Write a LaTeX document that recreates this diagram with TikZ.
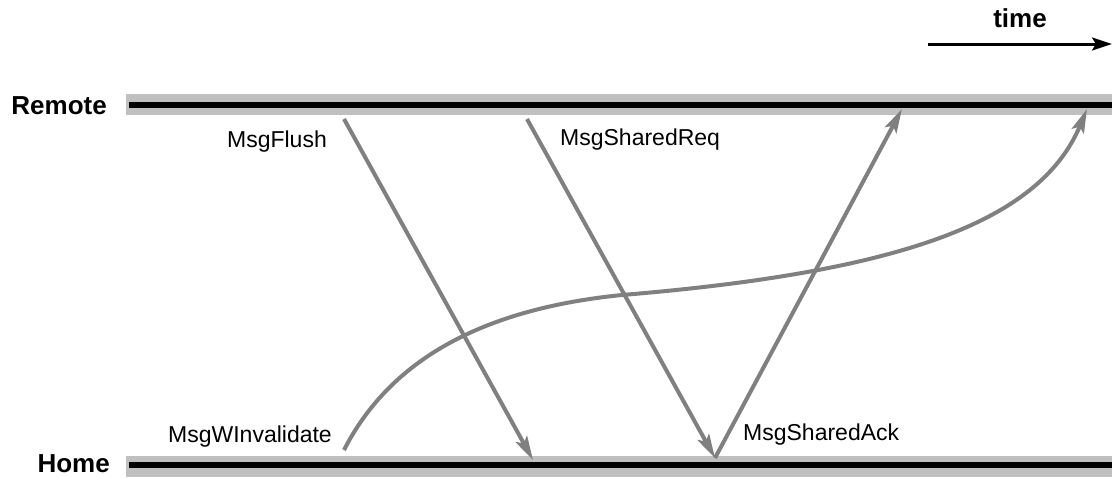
\documentclass[tikz,border=0pt]{standalone}
\usepackage{fontspec}
\setmainfont{Liberation Sans}
\usetikzlibrary{arrows.meta}
\definecolor{band}{HTML}{C0C0C0}
\definecolor{msg}{HTML}{808080}
\tikzset{
  lbl/.style={inner sep=0pt, font=\fontsize{23}{26}\selectfont},
  lane/.style={inner sep=0pt, text depth=0pt, font=\fontsize{26}{30}\selectfont\bfseries},
  msgarrow/.style={draw=msg, line width=4pt, -{Stealth[length=24pt,width=13pt,inset=5pt]}},
}
\begin{document}
\begin{tikzpicture}[x=1pt,y=-1pt]
\useasboundingbox (0,0) rectangle (1112,477);
% timelines
\fill[band] (126,94) rectangle (1112,115);
\draw[line width=6pt] (129,104.5) -- (1112,104.5);
\fill[band] (126,456) rectangle (1112,477);
\draw[line width=6pt] (129,465) -- (1112,465);
\node[lane, anchor=base east] (remote) at (107,114) {Remote};
\node[lane, anchor=base east] (home) at (110,472) {Home};
% time arrow
\node[lane, anchor=base] (time) at (1020,27) {time};
\coordinate (t0) at (928,44);
\coordinate (t1) at (1112,44);
\draw[line width=3pt, -{Stealth[length=20pt,width=13pt,inset=4pt]}] (t0) -- (t1);
% message end points
\coordinate (f0) at (344,119);
\coordinate (f1) at (533,460);
\coordinate (r0) at (527,119);
\coordinate (r1) at (715,458);
\coordinate (a1) at (902,109);
\coordinate (w0) at (344,450);
\coordinate (wm) at (622,295);
\coordinate (w1) at (1087,109);
% messages
\draw[msgarrow] (f0) -- (f1);
\draw[msgarrow] (r0) -- (r1);
\draw[msgarrow] (r1) -- (a1);
\draw[msgarrow] (w0) .. controls (390,360) and (482,309) .. (wm)
                     .. controls (900,272) and (1040,222) .. (w1);
% labels
\node[lbl, anchor=base east] (lflush) at (327,147) {MsgFlush};
\node[lbl, anchor=base west] (lreq) at (560,145) {MsgSharedReq};
\node[lbl, anchor=base east] (linv) at (332,442) {MsgWInvalidate};
\node[lbl, anchor=base west] (lack) at (743,440) {MsgSharedAck};
\end{tikzpicture}
\end{document}
